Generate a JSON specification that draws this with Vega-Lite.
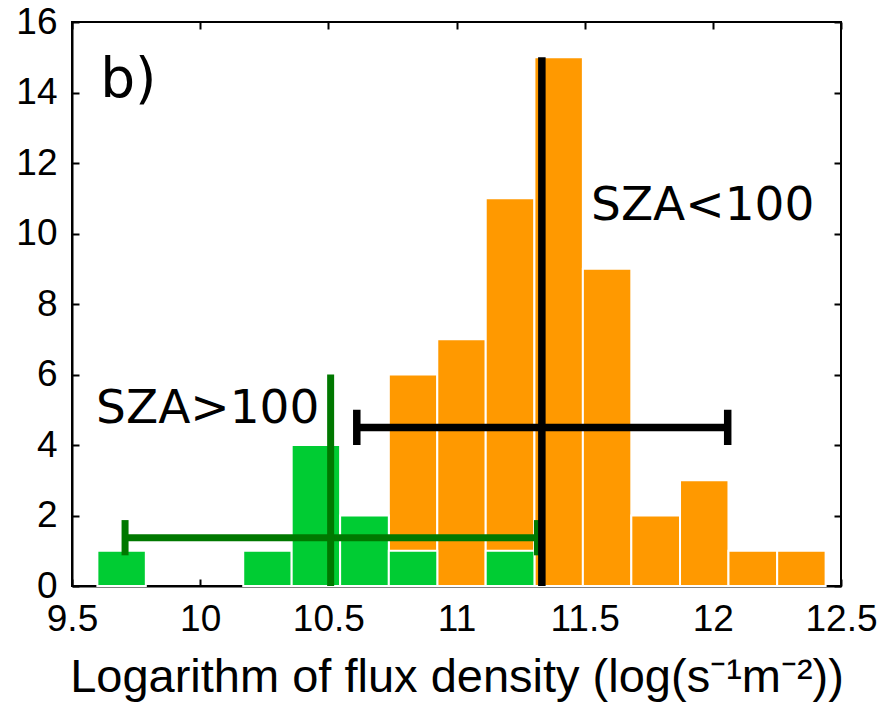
{
  "$schema": "https://vega.github.io/schema/vega-lite/v6.json",
  "width": 769,
  "height": 564,
  "autosize": "none",
  "padding": {"left": 72, "top": 22, "right": 47, "bottom": 121},
  "background": "white",
  "config": {
    "view": {"stroke": "black", "strokeWidth": 2},
    "axis": {
      "grid": false,
      "domainColor": "black",
      "domainWidth": 2,
      "tickColor": "black",
      "tickWidth": 2,
      "tickSize": -7,
      "labelColor": "black",
      "titleColor": "black",
      "labelFont": "Liberation Sans",
      "titleFont": "Liberation Sans",
      "labelFontSize": 37,
      "titleFontSize": 47,
      "titleFontWeight": "normal"
    }
  },
  "datasets": {
    "orange": [
      {"x0": 10.736, "x1": 10.925, "count": 6},
      {"x0": 10.925, "x1": 11.114, "count": 7},
      {"x0": 11.114, "x1": 11.304, "count": 11},
      {"x0": 11.304, "x1": 11.493, "count": 15},
      {"x0": 11.493, "x1": 11.682, "count": 9},
      {"x0": 11.682, "x1": 11.872, "count": 2},
      {"x0": 11.872, "x1": 12.061, "count": 3},
      {"x0": 12.061, "x1": 12.251, "count": 1},
      {"x0": 12.251, "x1": 12.44, "count": 1}
    ],
    "green": [
      {"x0": 9.599, "x1": 9.788, "count": 1},
      {"x0": 10.168, "x1": 10.357, "count": 1},
      {"x0": 10.357, "x1": 10.546, "count": 4},
      {"x0": 10.546, "x1": 10.736, "count": 2},
      {"x0": 10.736, "x1": 10.925, "count": 1},
      {"x0": 11.114, "x1": 11.304, "count": 1}
    ],
    "greenLines": [
      {"xa": 9.707, "xb": 11.316, "ya": 1.37, "yb": 1.37},
      {"xa": 9.707, "xb": 9.707, "ya": 0.87, "yb": 1.87},
      {"xa": 11.316, "xb": 11.316, "ya": 0.87, "yb": 1.87},
      {"xa": 10.509, "xb": 10.509, "ya": 0, "yb": 6}
    ],
    "blackLines": [
      {"xa": 10.611, "xb": 12.058, "ya": 4.5, "yb": 4.5},
      {"xa": 10.611, "xb": 10.611, "ya": 4, "yb": 5},
      {"xa": 12.058, "xb": 12.058, "ya": 4, "yb": 5},
      {"xa": 11.333, "xb": 11.333, "ya": 0, "yb": 15}
    ],
    "labels": [
      {"x": 11.525, "y": 10.38, "text": "SZA<100"},
      {"x": 9.594, "y": 4.63, "text": "SZA>100"}
    ],
    "panel": [
      {"x": 9.61, "y": 13.88, "text": "b)"}
    ]
  },
  "resolve": {"axis": {"x": "independent", "y": "independent"}},
  "layer": [
    {
      "data": {"name": "orange"},
      "mark": {"type": "rect", "fill": "#FF9900", "stroke": "white", "strokeWidth": 2},
      "encoding": {
        "x": {
          "field": "x0", "type": "quantitative",
          "scale": {"domain": [9.5, 12.5], "nice": false, "zero": false},
          "axis": {"orient": "bottom", "values": [9.5, 10, 10.5, 11, 11.5, 12, 12.5], "format": "~g", "labelPadding": 22, "labelFlush": false, "labelOverlap": false, "title": "Logarithm of flux density (log(s⁻¹m⁻²))", "titlePadding": 17}
        },
        "x2": {"field": "x1"},
        "y": {
          "field": "count", "type": "quantitative",
          "scale": {"domain": [0, 16], "nice": false, "zero": true},
          "axis": {"orient": "left", "values": [0, 2, 4, 6, 8, 10, 12, 14, 16], "labelPadding": 22, "labelFlush": false, "labelOverlap": false, "title": null}
        },
        "y2": {"datum": 0}
      }
    },
    {
      "data": {"name": "green"},
      "mark": {"type": "rect", "fill": "#00CC33", "stroke": "white", "strokeWidth": 2},
      "encoding": {
        "x": {"field": "x0", "type": "quantitative", "axis": null},
        "x2": {"field": "x1"},
        "y": {"field": "count", "type": "quantitative", "axis": null},
        "y2": {"datum": 0}
      }
    },
    {
      "data": {"name": "greenLines"},
      "mark": {"type": "rule", "color": "#007800", "strokeWidth": 7},
      "encoding": {
        "x": {"field": "xa", "type": "quantitative", "axis": null},
        "x2": {"field": "xb"},
        "y": {"field": "ya", "type": "quantitative", "axis": null},
        "y2": {"field": "yb"}
      }
    },
    {
      "data": {"name": "blackLines"},
      "mark": {"type": "rule", "color": "black", "strokeWidth": 7.5},
      "encoding": {
        "x": {"field": "xa", "type": "quantitative",
          "axis": {"orient": "top", "values": [9.5, 10, 10.5, 11, 11.5, 12, 12.5], "labels": false, "domain": false, "title": null}},
        "x2": {"field": "xb"},
        "y": {"field": "ya", "type": "quantitative",
          "axis": {"orient": "right", "values": [0, 2, 4, 6, 8, 10, 12, 14, 16], "labels": false, "domain": false, "title": null}},
        "y2": {"field": "yb"}
      }
    },
    {
      "data": {"name": "labels"},
      "mark": {"type": "text", "align": "left", "baseline": "alphabetic", "font": "DejaVu Sans", "fontSize": 47, "color": "black"},
      "encoding": {
        "x": {"field": "x", "type": "quantitative", "axis": null},
        "y": {"field": "y", "type": "quantitative", "axis": null},
        "text": {"field": "text"}
      }
    },
    {
      "data": {"name": "panel"},
      "mark": {"type": "text", "align": "left", "baseline": "alphabetic", "font": "DejaVu Sans", "fontSize": 55, "color": "black"},
      "encoding": {
        "x": {"field": "x", "type": "quantitative", "axis": null},
        "y": {"field": "y", "type": "quantitative", "axis": null},
        "text": {"field": "text"}
      }
    }
  ]
}
